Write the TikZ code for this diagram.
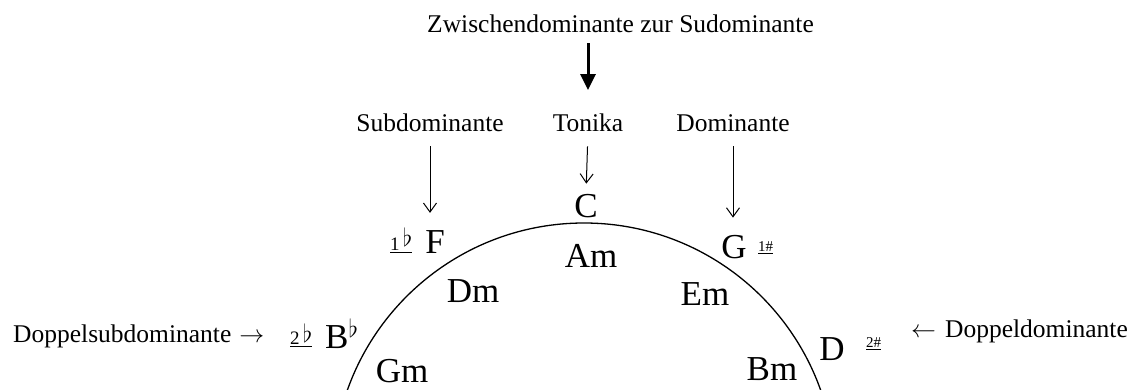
\documentclass[tikz,border=0pt]{standalone}
\usepackage{amsmath, amssymb}
\usepackage{fontspec}
\setmainfont{Liberation Serif}
\usetikzlibrary{arrows.meta}

\begin{document}
\begin{tikzpicture}[x=1pt, y=-1pt,
    chord/.style={font=\fontsize{35}{40}\selectfont, inner sep=0pt, anchor=base},
    funct/.style={font=\fontsize{25.5}{30}\selectfont, inner sep=0pt, anchor=base},
    acc/.style={font=\fontsize{15}{18}\selectfont, inner sep=0pt, anchor=base west},
    pointer/.style={-{Straight Barb[length=9pt,width=13pt]}, line width=1pt},
    bigpointer/.style={-{Triangle[length=16pt,width=15pt]}, line width=3pt}]

    % Frame
    \useasboundingbox (0,0) rectangle (1133,389);
    \clip (0,0) rectangle (1133,389);

    % Circle of fifths
    \draw[line width=1.3pt] (584,474) circle (251pt);

    % Chords on and inside the circle
    \foreach \n/\x/\y/\t in {C/586/217/C, F/435/253/F, G/734/258/G,
                             Am/591/267/Am, Dm/473/302/Dm, Em/705/305/Em,
                             Gm/402/382/Gm, Bm/772/380/Bm, D/832/360/D} {
        \node[chord] (\n) at (\x,\y) {\t};
    }
    \node[chord, anchor=base west] (Bb) at (325,348)
        {B\raisebox{11pt}{\fontsize{25}{25}\selectfont$\flat$}};

    % Number of accidentals
    \node[acc, font=\fontsize{19}{20}\selectfont] (Facc) at (390,250)
        {\underline{1\,\raisebox{4pt}{\fontsize{27}{27}\selectfont$\flat$}}};
    \node[acc, font=\fontsize{19}{20}\selectfont] (Bbacc) at (290,344)
        {\underline{2\,\raisebox{2pt}{\fontsize{27}{27}\selectfont$\flat$}}};
    \node[acc] (Gacc) at (758,251) {\underline{1\#}};
    \node[acc] (Dacc) at (866,347) {\underline{2\#}};

    % Functions
    \node[funct, anchor=base west] (zw) at (427,32) {Zwischendominante zur Sudominante};
    \node[funct] (sub) at (430,131) {Subdominante};
    \node[funct] (ton) at (588,131) {Tonika};
    \node[funct] (dom) at (733,131) {Dominante};
    \node[funct, anchor=base west] (dsd) at (13,342) {Doppelsubdominante\hspace{8pt}$\rightarrow$};
    \node[funct, anchor=base east] (dd) at (1128,337) {$\leftarrow$\hspace{9pt}Doppeldominante};

    % Arrows
    \draw[bigpointer, shorten <=11pt, shorten >=23pt] (zw.south -| ton.north) -- (ton.north);
    \draw[pointer, shorten <=15pt, shorten >=17pt] (sub.south) -- (sub.south |- F.north);
    \draw[pointer, shorten <=15pt, shorten >=10pt] (ton.south) -- (C.north);
    \draw[pointer, shorten <=15pt, shorten >=17pt] (dom.south) -- (dom.south |- G.north);

\end{tikzpicture}
\end{document}
